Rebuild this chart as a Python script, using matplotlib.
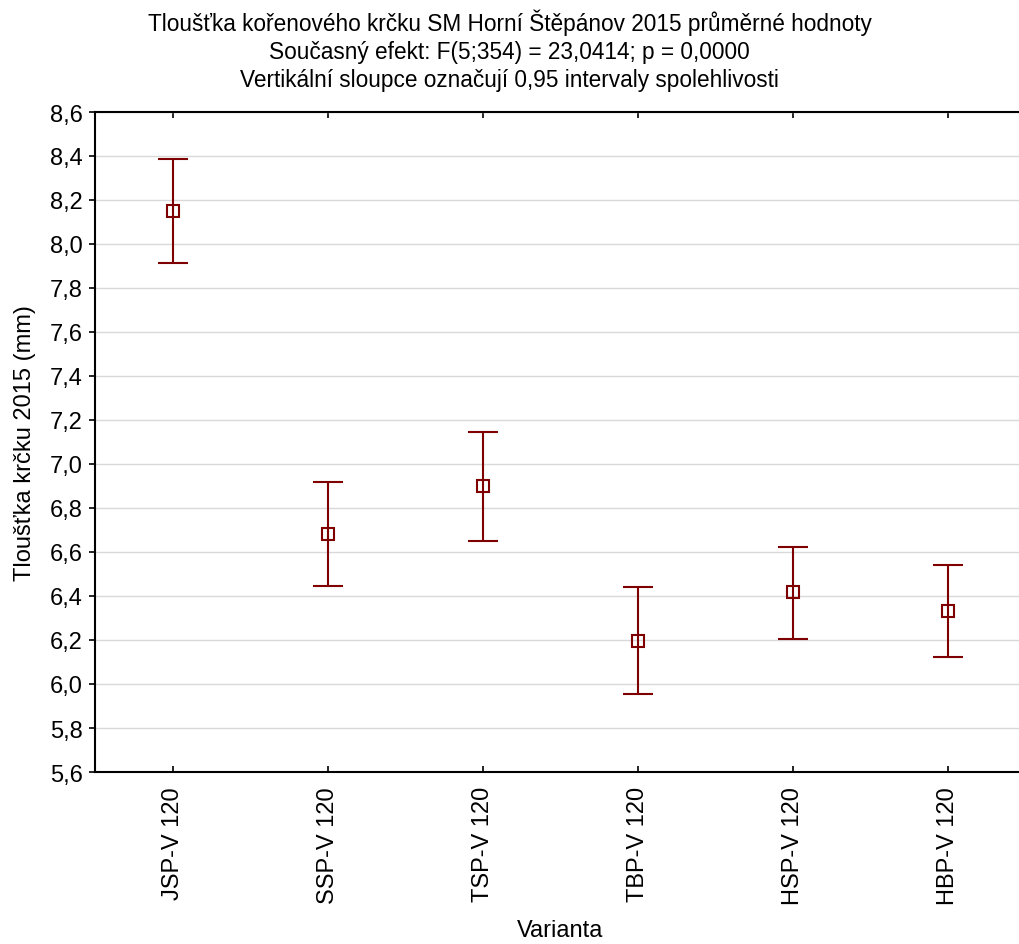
import numpy as np
from matplotlib import pyplot as plt

plt.rcParams['font.family'] = ['Liberation Sans', 'DejaVu Sans']

varianty = ["JSP-V 120", "SSP-V 120", "TSP-V 120", "TBP-V 120", "HSP-V 120", "HBP-V 120"]
prumer = [8.149, 6.682, 6.900, 6.197, 6.417, 6.332]
horni = [8.386, 6.920, 7.144, 6.442, 6.624, 6.542]
dolni = [7.912, 6.445, 6.651, 5.955, 6.206, 6.121]

barva = "#7f0000"

fig = plt.figure(figsize=(10.19, 9.45), dpi=100)
ax = fig.add_axes([95/1019, 1-773/945, 930.5/1019, 660/945])

x = np.arange(len(varianty))
m = np.array(prumer)
err = [m - np.array(dolni), np.array(horni) - m]
ax.errorbar(x, m, yerr=err, fmt="s", color=barva, ecolor=barva,
            elinewidth=1.5, capsize=11, capthick=1.5,
            markersize=8.5, markerfacecolor="none", markeredgewidth=1.5,
            markeredgecolor=barva, zorder=3)

ax.set_xlim(-0.5, 5.5)
ax.set_ylim(5.6, 8.6)
yt = np.arange(5.6, 8.61, 0.2)
ax.set_yticks(yt)
ax.set_yticklabels([("%.1f" % v).replace(".", ",") for v in yt], fontsize=17)
ax.set_xticks(x)
ax.set_xticklabels(varianty, rotation=90, fontsize=17)

ax.yaxis.grid(True, color="#d9d9d9", linewidth=1)
ax.set_axisbelow(True)
ax.spines["right"].set_visible(False)
for s in ["left", "bottom", "top"]:
    ax.spines[s].set_linewidth(1.5)

ax.tick_params(axis="y", direction="out", length=4, width=1.2, pad=5)
ax.tick_params(axis="x", direction="in", length=4, width=1.2, pad=10,
               top=True)

ax.set_xlabel("Varianta", fontsize=17, labelpad=11)
ax.set_ylabel("Tloušťka krčku 2015 (mm)", fontsize=17, labelpad=10)

fig.text(0.5, 1 - 10/945,
         "Tloušťka kořenového krčku SM Horní Štěpánov 2015 průměrné hodnoty\n"
         "Současný efekt: F(5;354) = 23,0414; p = 0,0000\n"
         "Vertikální sloupce označují 0,95 intervaly spolehlivosti",
         ha="center", va="top", fontsize=16.3, linespacing=1.26)

fig.savefig("out.png", dpi=100)
